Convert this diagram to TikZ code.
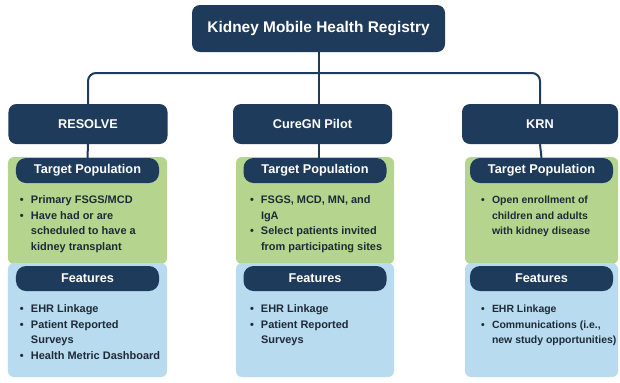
\documentclass[tikz,border=0pt]{standalone}
\usepackage{fontspec}
\setmainfont{Liberation Sans}
\usetikzlibrary{positioning}
\definecolor{navy}{HTML}{1F3B5C}
\definecolor{popgreen}{HTML}{B5D58F}
\definecolor{featblue}{HTML}{B8DBF0}
\definecolor{bodytext}{HTML}{1E2A36}
\newcommand{\dotitem}{\makebox[11bp][l]{\textbullet}}
\newcommand{\noitem}{\hspace*{11bp}}
\tikzset{
  navybox/.style={fill=navy, text=white, rounded corners=8bp, inner sep=0pt,
    font=\bfseries\fontsize{12.75}{14}\selectfont},
  titlebox/.style={navybox, minimum width=253bp, minimum height=47bp,
    font=\bfseries\fontsize{15.5}{18}\selectfont},
  progbox/.style={navybox, minimum width=159bp, minimum height=40bp},
  hdrbox/.style={navybox, rounded corners=10bp, minimum width=143bp, minimum height=25bp},
  greenbox/.style={fill=popgreen, rounded corners=6bp, minimum height=107bp, inner sep=0pt},
  bluebox/.style={fill=featblue, rounded corners=6bp, minimum height=114bp, inner sep=0pt},
  blist/.style={align=left, inner sep=0pt, text=bodytext,
    font=\bfseries\fontsize{11}{15.5}\selectfont},
  narrowlist/.style={blist, font=\bfseries\fontsize{10.5}{15.5}\selectfont},
  conn/.style={draw=navy, line width=2bp},
}
\begin{document}
\begin{tikzpicture}[x=1bp,y=-1bp]
  \useasboundingbox (0,0) rectangle (620,382);
  \node[titlebox] (reg) at (318.5,28.5) {Kidney Mobile Health Registry};
  \coordinate (bus) at (318.5,73);

  % programmi
  \node[progbox] (r1) at (88,124)    {RESOLVE};
  \node[progbox] (r2) at (312.5,124) {CureGN Pilot};
  \node[progbox, minimum width=156bp] (r3) at (540,124) {KRN};

  % riquadri verdi e azzurri
  \node[greenbox, minimum width=159bp] (g1) at (87.5,210.5)  {};
  \node[greenbox, minimum width=158bp] (g2) at (315,210.5)   {};
  \node[greenbox, minimum width=153bp] (g3) at (541.5,210.5) {};
  \node[bluebox, minimum width=159bp] (b1) at (87.5,320)  {};
  \node[bluebox, minimum width=158bp] (b2) at (315,320)   {};
  \node[bluebox, minimum width=153bp] (b3) at (541.5,320) {};

  \node[hdrbox, below=1bp of g1.north] (h1) {Target Population};
  \node[hdrbox, below=1bp of g2.north] (h2) {Target Population};
  \node[hdrbox, below=1bp of g3.north] (h3) {Target Population};
  \node[hdrbox, below=3bp of b1.north] (f1) {Features};
  \node[hdrbox, below=3bp of b2.north] (f2) {Features};
  \node[hdrbox, below=3bp of b3.north] (f3) {Features};

  % elenchi
  \node[blist, below right=39bp and 12bp of g1.north west] (t1) {%
    \dotitem Primary FSGS/MCD\\
    \dotitem Have had or are\\
    \noitem scheduled to have a\\
    \noitem kidney transplant};
  \node[blist, below right=39bp and 14bp of g2.north west] (t2) {%
    \dotitem FSGS, MCD, MN, and\\
    \noitem IgA\\
    \dotitem Select patients invited\\
    \noitem from participating sites};
  \node[narrowlist, below right=39bp and 16bp of g3.north west] (t3) {%
    \dotitem Open enrollment of\\
    \noitem children and adults\\
    \noitem with kidney disease};
  \node[blist, below right=42bp and 12bp of b1.north west] (s1) {%
    \dotitem EHR Linkage\\
    \dotitem Patient Reported\\
    \noitem Surveys\\
    \dotitem Health Metric Dashboard};
  \node[blist, below right=42bp and 14bp of b2.north west] (s2) {%
    \dotitem EHR Linkage\\
    \dotitem Patient Reported\\
    \noitem Surveys};
  \node[narrowlist, below right=42bp and 16bp of b3.north west] (s3) {%
    \dotitem EHR Linkage\\
    \dotitem Communications (i.e.,\\
    \noitem new study opportunities)};

  % collegamenti
  \draw[conn] (reg.south) -- (reg.south |- r2.north);
  \draw[conn, rounded corners=8bp] (r1.north) |- (bus) -| (r3.north);
  \draw[conn] (r1.south) -- (h1.north);
  \draw[conn] (r2.south -| reg.south) -- (h2.north -| reg.south);
  \draw[conn] (r3.south) -- (h3.north);
\end{tikzpicture}
\end{document}
